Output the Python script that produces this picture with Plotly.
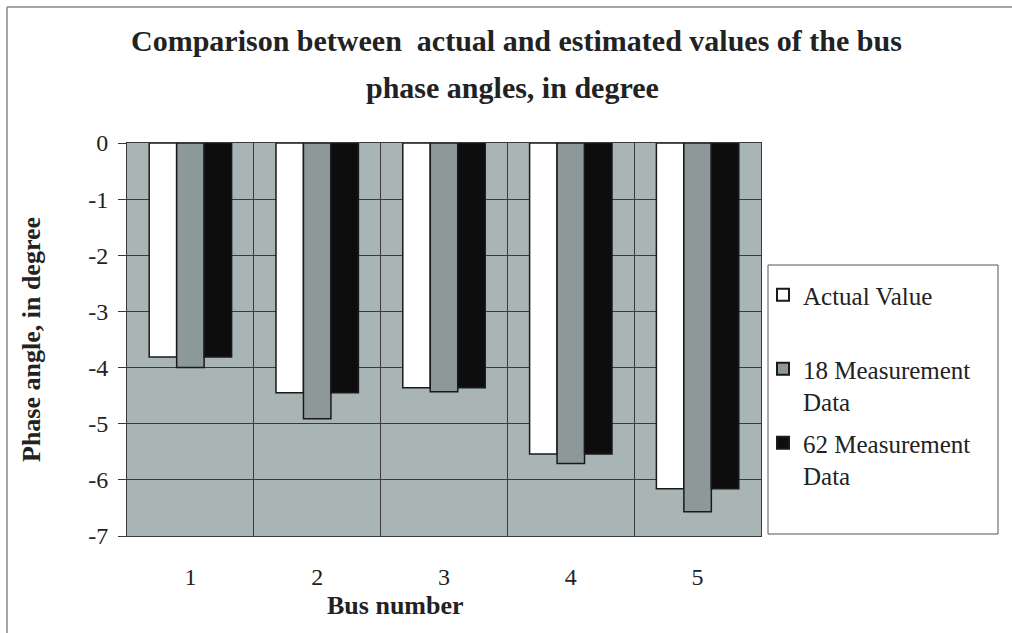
import plotly.graph_objects as go

buses = ["1", "2", "3", "4", "5"]
actual_value = [-3.81, -4.45, -4.36, -5.54, -6.16]
meas_18 = [-4.00, -4.91, -4.43, -5.71, -6.57]
meas_62 = [-3.81, -4.45, -4.36, -5.54, -6.16]

y_tick_vals = [0, -1, -2, -3, -4, -5, -6, -7]
y_tick_text = ["0", "-1", "-2", "-3", "-4", "-5", "-6", "-7"]

series_names = ["Actual Value<br> ", "18 Measurement<br>Data", "62 Measurement<br>Data"]
series_values = [actual_value, meas_18, meas_62]
series_colors = ["#ffffff", "#8d9998", "#0d0d0d"]

FONT = "Liberation Serif, Times New Roman, serif"
TXT = "#222222"

fig = go.Figure()
for i, (name, vals, col) in enumerate(zip(series_names, series_values, series_colors)):
    fig.add_trace(go.Bar(
        x=buses, y=vals, name=name, legendgroup=f"g{i}",
        marker=dict(color=col, line=dict(color="#1a1a1a", width=1.5)),
    ))

W, H = 1012, 633
L, R, T, B = 127, 251, 143, 97
pw, ph = W - L - R, H - T - B

def px_x(x):
    return (x - L) / pw

def px_y(y):
    return (H - B - y) / ph

fig.update_layout(
    width=W, height=H,
    margin=dict(l=L, r=R, t=T, b=B, autoexpand=False),
    paper_bgcolor="white",
    plot_bgcolor="#a9b5b5",
    barmode="group", bargap=0.35, bargroupgap=0,
    font=dict(family=FONT, size=20, color=TXT),
    showlegend=True,
    legend=dict(
        x=px_x(763), y=px_y(272), xanchor="left", yanchor="top",
        bgcolor="rgba(0,0,0,0)", borderwidth=0, valign="top",
        font=dict(family=FONT, size=25, color=TXT),
        tracegroupgap=6, itemsizing="constant",
    ),
    xaxis=dict(
        type="category", tickson="boundaries", showgrid=True, gridcolor="#3a3a3a", gridwidth=1,
        showline=True, linecolor="#3a3a3a", linewidth=1, mirror=True,
        ticks="", ticklabelstandoff=19,
        tickfont=dict(family=FONT, size=24, color=TXT),
    ),
    yaxis=dict(
        range=[-7, 0], tickvals=y_tick_vals, ticktext=y_tick_text,
        showgrid=True, gridcolor="#3a3a3a", gridwidth=1,
        zeroline=False, showline=True, linecolor="#3a3a3a", linewidth=1, mirror=True,
        ticks="outside", ticklen=8, tickcolor="#3a3a3a", ticklabelstandoff=5,
        tickfont=dict(family=FONT, size=24, color=TXT),
    ),
    shapes=[
        dict(type="line", xref="paper", yref="paper", x0=px_x(7), x1=px_x(1012), y0=px_y(7), y1=px_y(7),
             line=dict(color="#888888", width=1.5)),
        dict(type="line", xref="paper", yref="paper", x0=px_x(7), x1=px_x(7), y0=px_y(7), y1=px_y(633),
             line=dict(color="#888888", width=1.5)),
        dict(type="rect", xref="paper", yref="paper", x0=px_x(768), x1=px_x(998), y0=px_y(265), y1=px_y(534),
             line=dict(color="#555555", width=1), fillcolor="white", layer="below"),
    ],
    annotations=[
        dict(text="<b>Comparison between  actual and estimated values of the bus</b>",
             xref="paper", yref="paper", x=px_x(516), y=px_y(40),
             xanchor="center", yanchor="middle", showarrow=False,
             font=dict(family=FONT, size=30, color=TXT)),
        dict(text="<b>phase angles, in degree</b>",
             xref="paper", yref="paper", x=px_x(512), y=px_y(87),
             xanchor="center", yanchor="middle", showarrow=False,
             font=dict(family=FONT, size=30, color=TXT)),
        dict(text="<b>Bus number</b>", xref="paper", yref="paper", x=px_x(395), y=px_y(605),
             xanchor="center", yanchor="middle", showarrow=False,
             font=dict(family=FONT, size=26, color=TXT)),
        dict(text="<b>Phase angle, in degree</b>", xref="paper", yref="paper", x=px_x(31), y=px_y(340),
             xanchor="center", yanchor="middle", showarrow=False, textangle=-90,
             font=dict(family=FONT, size=26, color=TXT)),
    ],
)

fig.write_html("out.html")
